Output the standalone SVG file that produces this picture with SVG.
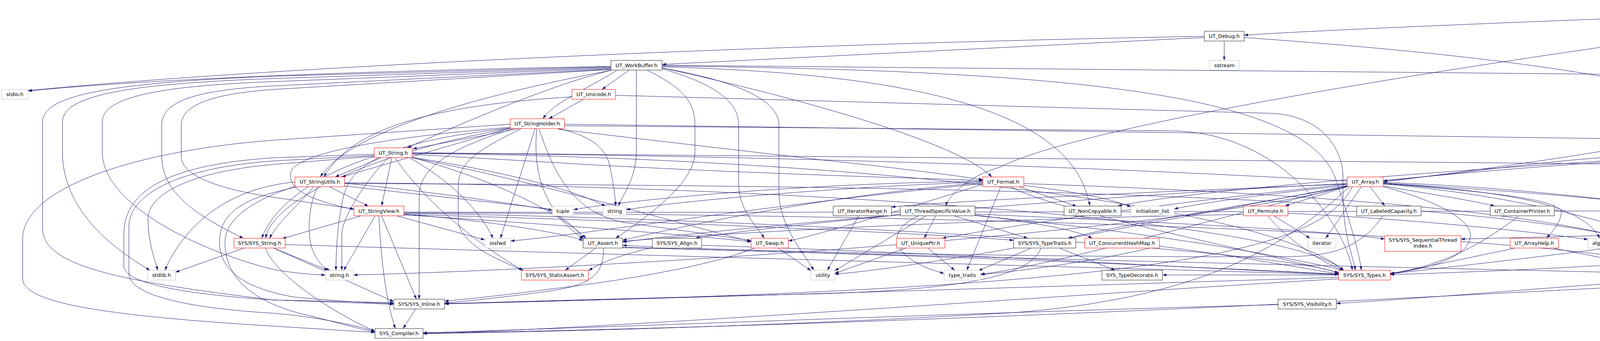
<svg xmlns="http://www.w3.org/2000/svg" width="5182" height="873" viewBox="0 0 5182 873">
<style>
.e{fill:none;stroke:#191970;stroke-width:1;marker-end:url(#a)}
.k rect{fill:#fff;stroke:#202020;stroke-width:1}
.r rect{fill:#fff;stroke:#ff0000;stroke-width:1}
.g rect{fill:#fff;stroke:#bfbfbf;stroke-width:1}
.root rect{fill:#bfbfbf;stroke:#000;stroke-width:1}
text{font-family:"DejaVu Sans","Liberation Sans",sans-serif;font-size:13px;text-anchor:middle;fill:#000}
</style>
<defs>
<marker id="a" viewBox="0 0 10 7" refX="10" refY="3.5" markerWidth="10" markerHeight="7" orient="auto" markerUnits="userSpaceOnUse"><path d="M0,0L10,3.5L0,7z" fill="#191970"/></marker>
</defs>
<rect width="5182" height="873" fill="#fff"/>
<g id="connectors">
<path class="e" d="M4789,22 C4200,45 3500,70 3185,90"/>
<path class="e" d="M4789,27 C3600,180 2750,330 2560,428 C2480,450 2430,500 2421,527"/>
<path class="e" d="M4858,31 C4780,280 4450,350 3541,466"/>
<path class="e" d="M4864,31 L4864,245 C4864,330 4600,360 4432,386"/>
<path class="e" d="M4869,31 L4964,304"/>
<path class="e" d="M4895,31 L5008,80"/>
<path class="e" d="M4939,25 C5080,45 5174,70 5174,140 L5174,550 C5174,600 5120,620 5000,645 C4800,690 4600,700 4432,704"/>
<path class="e" d="M3083,96 L1695,165"/>
<path class="e" d="M3083,93 C2000,112 700,170 72,232"/>
<path class="e" d="M3134,105 L3134,154.5"/>
<path class="e" d="M3185,96 C3800,140 4300,200 4600,330 C4800,420 4870,560 4820,640 C4780,690 4600,700 4432,703"/>
<path class="e" d="M5049,105 C5077,180 5077,200 5077,240 L5077,540 C5077,600 5000,640 4850,670 C4700,695 4550,700 4432,702"/>
<path class="e" d="M4970,329 C4970,450 4900,540 4726,611"/>
<path class="e" d="M4588,635 L4430,692"/>
<path class="e" d="M4560,636 C4400,665 4000,690 3559,703"/>
<path class="e" d="M4397,404 L4463,453"/>
<path class="e" d="M4372,404 C4350,450 4350,490 4364,527"/>
<path class="e" d="M4432,404 C4650,460 4770,540 4757,600 C4745,670 4550,700 4432,704"/>
<path class="e" d="M4382,404 C4390,480 4480,520 4460,565 C4430,600 4100,640 3559,701"/>
<path class="e" d="M4391,404 C4450,470 4520,540 4470,575 C4420,600 4000,605 3740,612"/>
<path class="e" d="M4328,392 C4000,400 3800,440 3541,463"/>
<path class="e" d="M4328,398 C3800,430 3100,480 2862,527"/>
<path class="e" d="M4328,402 C3600,440 2800,540 2412,610"/>
<path class="e" d="M1564,170 C1000,180 400,200 72,233"/>
<path class="e" d="M1564,171 L700,195 C300,212 109,240 109,312 L109,585 C109,680 300,720 700,768 L1008,775"/>
<path class="e" d="M1564,173 L700,201 C350,214 160,240 160,312 L160,390 C160,520 260,620 384,692"/>
<path class="e" d="M1564,175 L700,209 C400,220 262,250 262,312 L262,390 C262,520 500,640 700,690 C760,700 800,703 833,704"/>
<path class="e" d="M1564,177 L700,220 C500,230 414,260 414,320 L414,400 C414,500 520,560 623,610"/>
<path class="e" d="M1564,178 L700,229 C540,240 464,270 464,320 L464,400 C464,460 600,490 700,505 C800,520 860,528 906,535"/>
<path class="e" d="M1610,180 L1541,229"/>
<path class="e" d="M1579,180 C1500,230 1420,260 1390,304"/>
<path class="e" d="M1564,180 C1400,220 1150,330 1043,378"/>
<path class="e" d="M1564,180 C1250,240 900,330 820,453"/>
<path class="e" d="M1629,180 L1629,390 C1629,450 1600,490 1583,527"/>
<path class="e" d="M1657,180 C1760,230 1779,270 1779,320 L1779,390 C1779,470 1650,560 1576,610"/>
<path class="e" d="M1695,176 C1850,220 1891,270 1891,320 L1891,470 C1891,540 1940,580 1956,610"/>
<path class="e" d="M1695,174 C1900,210 1994,260 1994,320 L1994,490 C1994,580 2060,650 2083,692"/>
<path class="e" d="M1695,174 C2000,240 2450,360 2539,453"/>
<path class="e" d="M1695,171 C2400,190 2750,300 2790,527"/>
<path class="e" d="M1695,169 C2800,180 3350,250 3420,460 C3460,580 3480,650 3485,692"/>
<path class="e" d="M1695,167 L4100,190 C4500,200 4640,300 4660,450 C4680,600 4500,690 4430,700"/>
<path class="e" d="M1494,254 L1405,304"/>
<path class="e" d="M1576,244 L3250,290 C3400,295 3438,400 3438,450 L3438,500 C3438,600 3465,660 3470,692"/>
<path class="e" d="M1464,248 C1100,270 900,330 829,453"/>
<path class="e" d="M1306,318 L700,359 C350,385 58,480 58,612 L58,713 C58,780 300,810 700,835 L960,851"/>
<path class="e" d="M1330,329 L1057,381"/>
<path class="e" d="M1310,327 L875,453"/>
<path class="e" d="M1306,326 C1000,350 760,390 745,440 C735,480 780,510 906,536"/>
<path class="e" d="M1370,329 L1281,610"/>
<path class="e" d="M1315,329 C1150,380 1075,430 1073,500 L1073,766"/>
<path class="e" d="M1335,329 C1210,390 1173,420 1173,480 L1173,560 C1173,620 1260,660 1340,692"/>
<path class="e" d="M1429,329 C1500,345 1547,370 1560,420 C1570,470 1575,500 1576,527"/>
<path class="e" d="M1306,328 C1000,360 900,420 880,500 C865,560 860,640 860,692"/>
<path class="e" d="M1306,329 C1000,380 700,500 680,610"/>
<path class="e" d="M1374,330 C1366,420 1378,530 1493,612"/>
<path class="e" d="M1380,330 C1420,450 1470,545 1600,570 C1750,590 1880,610 1923,616"/>
<path class="e" d="M1445,318 L4200,356 C4420,362 4538,400 4538,450 L4538,500 C4538,580 4420,640 4372,692"/>
<path class="e" d="M1445,322 L3000,335 C3300,340 3450,600 3462,692"/>
<path class="e" d="M1429,331 L2100,409 C2300,430 2450,450 2516,460"/>
<path class="e" d="M975,404 L858,453"/>
<path class="e" d="M1003,404 L977,527"/>
<path class="e" d="M994,404 C930,470 875,560 875,600 L875,692"/>
<path class="e" d="M1012,404 C1060,480 1180,600 1338,692"/>
<path class="e" d="M1048,404 C1150,460 1230,540 1262,610"/>
<path class="e" d="M958,395 L700,404 C450,420 317,480 317,600 L317,680 C317,730 500,755 700,768 L1008,779"/>
<path class="e" d="M958,398 L700,412 C450,430 330,500 330,580 L330,700 C330,760 500,790 700,802 C800,810 900,830 960,848"/>
<path class="e" d="M958,400 L700,421 C480,440 379,500 379,560 C379,620 395,660 404,692"/>
<path class="e" d="M960,400 C800,450 700,530 670,610"/>
<path class="e" d="M1055,403 C1300,440 1480,490 1550,528"/>
<path class="e" d="M1055,403 C1300,470 1450,560 1500,610"/>
<path class="e" d="M1055,395 L1400,415 C1800,440 2300,455 2516,462"/>
<path class="e" d="M1055,393 C2000,400 3200,500 3440,692"/>
<path class="e" d="M1055,391 L4150,420 C4300,425 4330,600 4360,692"/>
<path class="e" d="M1055,392 C2500,400 4000,480 4308,536"/>
<path class="e" d="M1055,404 C1400,470 1800,590 1923,618"/>
<path class="e" d="M843,478 L943,528"/>
<path class="e" d="M803,478 C760,530 710,570 690,610"/>
<path class="e" d="M814,478 C790,520 785,600 800,640 C810,665 825,685 845,692"/>
<path class="e" d="M755,466 C600,480 480,560 422,692"/>
<path class="e" d="M760,478 L700,493 C600,520 562,560 562,620 C562,700 640,740 750,760 C870,772 960,776 1008,777"/>
<path class="e" d="M760,476 C650,510 576,560 576,620 C576,720 660,780 800,810 C880,830 930,845 960,850"/>
<path class="e" d="M882,469 C1100,490 1300,520 1414,538"/>
<path class="e" d="M882,468 C2000,475 3300,560 3440,693"/>
<path class="e" d="M882,470 C2500,475 4200,500 4370,692"/>
<path class="e" d="M882,476 L1400,534 C1450,560 1480,590 1493,613"/>
<path class="e" d="M923,553 L722,611"/>
<path class="e" d="M960,553 L880,692"/>
<path class="e" d="M970,553 C975,650 985,760 1012,841"/>
<path class="e" d="M977,553 L1066,766"/>
<path class="e" d="M1017,553 L1241,614"/>
<path class="e" d="M1034,548 C1300,570 1450,600 1493,616"/>
<path class="e" d="M1034,549 C1800,570 2400,600 2595,615"/>
<path class="e" d="M1034,546 C2000,560 3300,640 3427,700"/>
<path class="e" d="M1034,545 C2500,548 4100,600 4350,700"/>
<path class="e" d="M1034,543 C2000,545 3800,540 4308,540"/>
<path class="e" d="M1034,550 C1500,580 1800,605 1923,619"/>
<path class="e" d="M625,635 L449,697"/>
<path class="e" d="M700,635 L840,692"/>
<path class="e" d="M700,635 L1008,772"/>
<path class="e" d="M680,635 C700,700 850,800 960,848"/>
<path class="e" d="M730,626 C1500,650 3000,690 3427,703"/>
<path class="e" d="M1525,635 L1447,692"/>
<path class="e" d="M1545,635 C1545,700 1520,730 1400,746 C1300,760 1200,770 1138,776"/>
<path class="e" d="M1594,633 C2500,660 3800,690 4350,702"/>
<path class="e" d="M1594,634 C2300,650 3000,680 3427,702"/>
<path class="e" d="M1670,634 C1600,650 1540,670 1507,693"/>
<path class="e" d="M1796,628 C2500,650 3100,690 3427,702"/>
<path class="e" d="M1992,635 L2076,693"/>
<path class="e" d="M1931,635 C1800,690 1500,730 1400,741 C1300,755 1200,765 1138,771"/>
<path class="e" d="M2198,553 L2118,692"/>
<path class="e" d="M2305,550 C2100,570 1900,590 1780,610"/>
<path class="e" d="M2350,553 C2250,600 2300,670 2417,700"/>
<path class="e" d="M2370,553 L2137,693"/>
<path class="e" d="M2395,553 L2366,610"/>
<path class="e" d="M2444,553 L2631,610"/>
<path class="e" d="M2496,550 C2650,570 2760,590 2796,610"/>
<path class="e" d="M2496,548 C3000,570 3400,590 3545,612"/>
<path class="e" d="M2496,552 C3000,600 3300,660 3440,692"/>
<path class="e" d="M2319,635 L2137,700"/>
<path class="e" d="M2375,635 L2444,692"/>
<path class="e" d="M2640,635 L2505,693"/>
<path class="e" d="M2665,635 C2640,700 2500,740 2100,752 C1700,762 1300,772 1138,778"/>
<path class="e" d="M2712,635 L2855,692"/>
<path class="e" d="M2968,630 C3200,660 3350,690 3427,701"/>
<path class="e" d="M2943,635 C2800,670 2600,695 2511,703"/>
<path class="e" d="M3262,553 L3354,610"/>
<path class="e" d="M3297,546 C3600,560 3900,590 4065,613"/>
<path class="e" d="M3246,553 C3300,620 3400,680 3440,692"/>
<path class="e" d="M3183,549 C2500,560 1800,600 1594,618"/>
<path class="e" d="M3540,553 C3480,640 3400,655 3300,657 C2600,660 1800,640 1594,628"/>
<path class="e" d="M3888,553 C3800,620 3700,680 3559,700"/>
<path class="e" d="M3879,635 L3559,702"/>
<path class="e" d="M3975,635 C4100,660 4250,690 4350,701"/>
<path class="e" d="M2562,478 L2475,692"/>
<path class="e" d="M2609,478 L2756,528"/>
<path class="e" d="M2587,478 C2700,540 3200,640 3427,698"/>
<path class="e" d="M2621,470 C3500,500 4200,560 4360,692"/>
<path class="e" d="M2621,475 C2750,490 2850,510 2895,530"/>
<path class="e" d="M2516,468 C2100,500 1700,590 1594,615"/>
<path class="e" d="M2516,466 C2100,480 1700,520 1603,537"/>
<path class="e" d="M2516,464 C2000,470 1550,520 1468,537"/>
<path class="e" d="M2516,470 C2000,520 1500,600 1307,617"/>
<path class="e" d="M2516,472 C2300,540 2100,600 2018,617"/>
<path class="e" d="M3507,478 L3545,527"/>
<path class="e" d="M3540,476 C3650,495 3750,510 3826,527"/>
<path class="e" d="M3541,470 C3800,490 4000,510 3997,545 C3994,575 3970,595 3960,610"/>
<path class="e" d="M3541,469 C3850,490 4050,520 4095,610"/>
<path class="e" d="M3449,478 L3290,527"/>
<path class="e" d="M3485,478 L3394,610"/>
<path class="e" d="M3449,475 C3200,500 3050,525 3006,535"/>
<path class="e" d="M3449,471 C3000,490 2500,510 2282,530"/>
<path class="e" d="M3449,470 C2800,500 1800,590 1594,620"/>
<path class="e" d="M3449,476 C3000,560 2400,680 2137,702"/>
<path class="e" d="M3449,477 C3100,560 2700,680 2510,702"/>
<path class="e" d="M3449,478 C3100,540 2850,580 2734,610"/>
<path class="e" d="M3542,478 C3700,520 3770,570 3764,607 C3758,660 3650,690 3559,700"/>
<path class="e" d="M3455,478 C3300,620 3100,760 2600,800 C2000,835 1400,850 1083,854"/>
<path class="e" d="M3462,478 C3380,640 3000,740 1139,777"/>
<path class="e" d="M3541,467 C3900,480 4200,520 4308,537"/>
<path class="e" d="M3449,477 C3000,600 1500,690 905,704"/>
<path class="e" d="M3541,471 C3900,500 4300,600 4370,692"/>
<path class="e" d="M4400,553 C4500,557 4740,560 4740,620 C4740,690 4600,715 4450,720 C4000,740 2500,830 1083,853"/>
<path class="e" d="M3427,704 L2976,704"/>
<path class="e" d="M3427,710 C2800,730 1700,765 1138,778"/>
<path class="e" d="M3427,714 C2800,750 1600,840 1083,854"/>
<path class="e" d="M4350,710 C4100,725 3700,760 3421,777"/>
<path class="e" d="M3272,780 C2500,800 1500,840 1083,852"/>
<path class="e" d="M1064,791 L1032,841"/>
</g>
<g id="node-taskscope" class="root"><rect x="4789" y="5.5" width="150" height="25"/><text x="4864" y="22.5">UT/UT_TaskScope.h</text></g>
<g id="node-debug" class="k"><rect x="3083" y="80" width="102" height="25"/><text x="3134" y="97">UT_Debug.h</text></g>
<g id="node-perfthread" class="k"><rect x="4952" y="80" width="186" height="25"/><text x="5045" y="97">UT_PerformanceThread.h</text></g>
<g id="node-workbuffer" class="k"><rect x="1564" y="154.5" width="131" height="25"/><text x="1629.5" y="171.5">UT_WorkBuffer.h</text></g>
<g id="node-sstream" class="g"><rect x="3097" y="154.5" width="75" height="25"/><text x="3134.5" y="171.5">sstream</text></g>
<g id="node-stdio" class="g"><rect x="4.5" y="229" width="67" height="25"/><text x="38" y="246">stdio.h</text></g>
<g id="node-unicode" class="r"><rect x="1464" y="229" width="112" height="25"/><text x="1520" y="246">UT_Unicode.h</text></g>
<g id="node-stringholder" class="r"><rect x="1306" y="304" width="139" height="25"/><text x="1375.5" y="321">UT_StringHolder.h</text></g>
<g id="node-smallobject" class="k"><rect x="4901" y="304" width="138" height="25"/><text x="4970" y="321">UT_SmallObject.h</text></g>
<g id="node-utstring" class="r"><rect x="958" y="378.5" width="97" height="25"/><text x="1006.5" y="395.5">UT_String.h</text></g>
<g id="node-utthread" class="k"><rect x="4328" y="378.5" width="104" height="25"/><text x="4380" y="395.5">UT_Thread.h</text></g>
<g id="node-stringutils" class="r"><rect x="755" y="453" width="127" height="25"/><text x="818.5" y="470">UT_StringUtils.h</text></g>
<g id="node-format" class="r"><rect x="2516" y="453" width="105" height="25"/><text x="2568.5" y="470">UT_Format.h</text></g>
<g id="node-array" class="r"><rect x="3449" y="453" width="92" height="25"/><text x="3495" y="470">UT_Array.h</text></g>
<g id="node-thread" class="g"><rect x="4459" y="453" width="63" height="25"/><text x="4490.5" y="470">thread</text></g>
<g id="node-stringview" class="r"><rect x="906" y="527.5" width="128" height="25"/><text x="970" y="544.5">UT_StringView.h</text></g>
<g id="node-tuple" class="g"><rect x="1414" y="527.5" width="54" height="25"/><text x="1441" y="544.5">tuple</text></g>
<g id="node-string" class="g"><rect x="1544" y="527.5" width="59" height="25"/><text x="1573.5" y="544.5">string</text></g>
<g id="node-iterrange" class="k"><rect x="2133" y="527.5" width="149" height="25"/><text x="2207.5" y="544.5">UT_IteratorRange.h</text></g>
<g id="node-tsv" class="k"><rect x="2305" y="527.5" width="191" height="25"/><text x="2400.5" y="544.5">UT_ThreadSpecificValue.h</text></g>
<g id="node-noncopy" class="k"><rect x="2724" y="527.5" width="146" height="25"/><text x="2797" y="544.5">UT_NonCopyable.h</text></g>
<g id="node-initlist" class="g"><rect x="2895" y="527.5" width="111" height="25"/><text x="2950.5" y="544.5">initializer_list</text></g>
<g id="node-permute" class="r"><rect x="3183" y="527.5" width="114" height="25"/><text x="3240" y="544.5">UT_Permute.h</text></g>
<g id="node-labeledcap" class="k"><rect x="3473" y="527.5" width="165" height="25"/><text x="3555.5" y="544.5">UT_LabeledCapacity.h</text></g>
<g id="node-contprinter" class="k"><rect x="3815" y="527.5" width="164" height="25"/><text x="3897" y="544.5">UT_ContainerPrinter.h</text></g>
<g id="node-deprecated" class="r"><rect x="4308" y="527.5" width="141" height="25"/><text x="4378.5" y="544.5">SYS_Deprecated.h</text></g>
<g id="node-sysstring" class="r"><rect x="599" y="610" width="131" height="25"/><text x="664.5" y="627">SYS/SYS_String.h</text></g>
<g id="node-iosfwd" class="g"><rect x="1241" y="610" width="66" height="25"/><text x="1274" y="627">iosfwd</text></g>
<g id="node-assert" class="k"><rect x="1493" y="610" width="101" height="25"/><text x="1543.5" y="627">UT_Assert.h</text></g>
<g id="node-align" class="k"><rect x="1670" y="610" width="126" height="25"/><text x="1733" y="627">SYS/SYS_Align.h</text></g>
<g id="node-swap" class="r"><rect x="1923" y="610" width="95" height="25"/><text x="1970.5" y="627">UT_Swap.h</text></g>
<g id="node-uniqueptr" class="r"><rect x="2295" y="610" width="124" height="25"/><text x="2357" y="627">UT_UniquePtr.h</text></g>
<g id="node-systypetraits" class="k"><rect x="2595" y="610" width="159" height="25"/><text x="2674.5" y="627">SYS/SYS_TypeTraits.h</text></g>
<g id="node-chm" class="r"><rect x="2777" y="610" width="191" height="25"/><text x="2872.5" y="627">UT_ConcurrentHashMap.h</text></g>
<g id="node-iterator" class="g"><rect x="3348" y="610" width="72" height="25"/><text x="3384" y="627">iterator</text></g>
<g id="node-seqthread" class="r"><rect x="3545" y="603.5" width="195" height="40"/><text x="3642.5" y="618.5">SYS/SYS_SequentialThread</text><text x="3642.5" y="633.5">Index.h</text></g>
<g id="node-arrayhelp" class="r"><rect x="3866" y="610" width="124" height="25"/><text x="3928" y="627">UT_ArrayHelp.h</text></g>
<g id="node-algorithm" class="g"><rect x="4065" y="610" width="85" height="25"/><text x="4107.5" y="627">algorithm</text></g>
<g id="node-soalloc" class="k"><rect x="4529" y="610" width="195" height="25"/><text x="4626.5" y="627">UT_SmallObjectAllocator.h</text></g>
<g id="node-stdlib" class="g"><rect x="378" y="692" width="71" height="25"/><text x="413.5" y="709">stdlib.h</text></g>
<g id="node-stringh" class="g"><rect x="833" y="692" width="72" height="25"/><text x="869" y="709">string.h</text></g>
<g id="node-staticassert" class="r"><rect x="1335" y="692" width="171" height="25"/><text x="1420.5" y="709">SYS/SYS_StaticAssert.h</text></g>
<g id="node-utility" class="g"><rect x="2076" y="692" width="61" height="25"/><text x="2106.5" y="709">utility</text></g>
<g id="node-type_traits" class="g"><rect x="2417" y="692" width="93" height="25"/><text x="2463.5" y="709">type_traits</text></g>
<g id="node-typedecorate" class="k"><rect x="2821" y="692" width="155" height="25"/><text x="2898.5" y="709">SYS_TypeDecorate.h</text></g>
<g id="node-systypes" class="r"><rect x="3427" y="692" width="132" height="25"/><text x="3493" y="709">SYS/SYS_Types.h</text></g>
<g id="node-utapi" class="k"><rect x="4350" y="692" width="81" height="25"/><text x="4390.5" y="709">UT_API.h</text></g>
<g id="node-inline" class="k"><rect x="1008" y="766" width="130" height="25"/><text x="1073" y="783">SYS/SYS_Inline.h</text></g>
<g id="node-visibility" class="k"><rect x="3272" y="766" width="149" height="25"/><text x="3346.5" y="783">SYS/SYS_Visibility.h</text></g>
<g id="node-compiler" class="k"><rect x="960" y="841" width="123" height="25"/><text x="1021.5" y="858">SYS_Compiler.h</text></g>
</svg>
